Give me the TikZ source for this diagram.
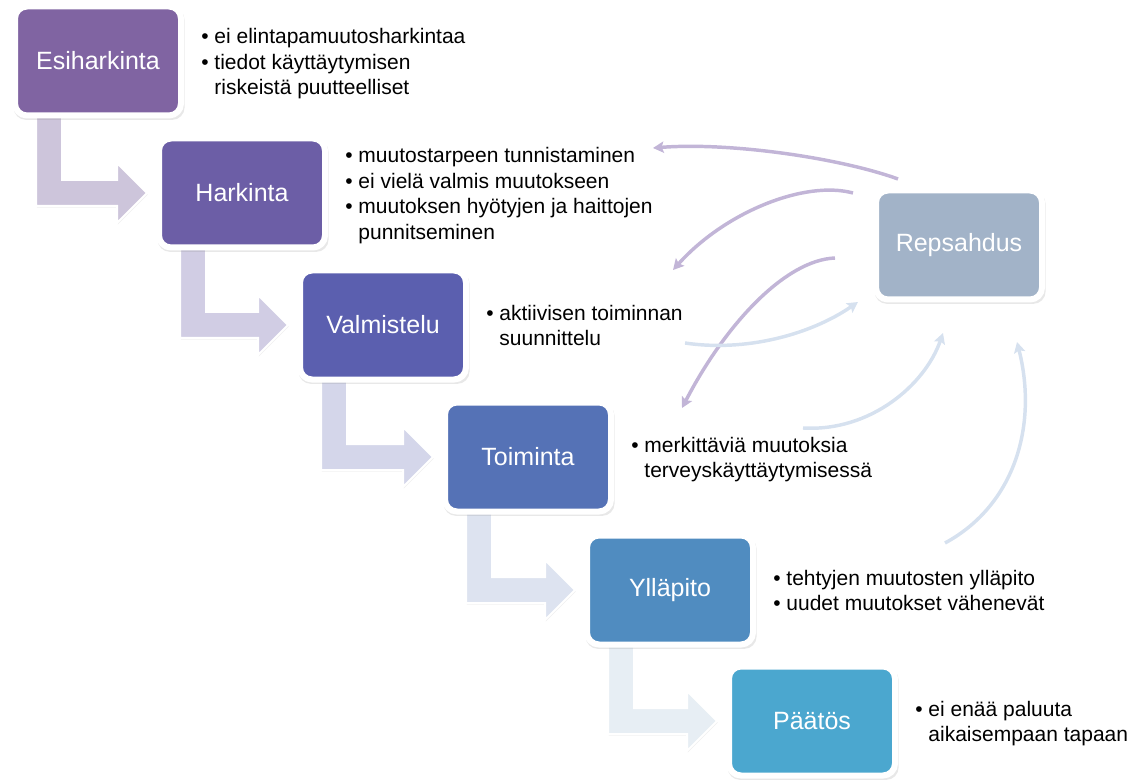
\documentclass[tikz,border=0pt]{standalone}
\usepackage{fontspec}
\setmainfont{Liberation Sans}
\usetikzlibrary{calc,shadows,arrows.meta}
\definecolor{cE}{HTML}{8064A2}
\definecolor{cH}{HTML}{6C5EA6}
\definecolor{cV}{HTML}{5B5FAF}
\definecolor{cT}{HTML}{5572B6}
\definecolor{cY}{HTML}{508CC0}
\definecolor{cP}{HTML}{4BA7CF}
\definecolor{cR}{HTML}{A2B3C8}
\definecolor{aE}{HTML}{CDC5DB}
\definecolor{aH}{HTML}{D1CDE4}
\definecolor{aV}{HTML}{D4D6EA}
\definecolor{aT}{HTML}{DDE3F0}
\definecolor{aY}{HTML}{E7EEF4}
\definecolor{cpurp}{HTML}{C2B5D7}
\definecolor{cblue}{HTML}{D6E1EF}
\pgfdeclarelayer{bg}
\pgfsetlayers{bg,main}
\newcommand\bl{\textbullet\ }
\newcommand\ct{\phantom{\textbullet\ }}
\newcommand\larrow[3]{%
  \coordinate (s#1) at ($(#1.south west)+(24,-10)$);
  \coordinate (t#1) at ($(#2.west)+(-9,0)$);
  \draw[larr, fill=#3] let \p1=(s#1), \p2=(t#1) in
    (\x1,\y1) -- (\x1,{\y2-9.75pt}) -- ({\x2-22.5pt},{\y2-9.75pt})
    -- ({\x2-22.5pt},{\y2-22.5pt}) -- (\x2,\y2) -- ({\x2-22.5pt},{\y2+22.5pt})
    -- ({\x2-22.5pt},{\y2+9.75pt}) -- ({\x1+19.5pt},{\y2+9.75pt})
    -- ({\x1+19.5pt},\y1) -- cycle;}
\begin{document}
\begin{tikzpicture}[x=0.75pt,y=-0.75pt,
  stage/.style={draw=white, line width=4.5pt, rounded corners=9pt,
    minimum width=124.5pt, minimum height=81.75pt, inner sep=0pt,
    text=white, font=\fontsize{18.75}{22}\selectfont,
    drop shadow={shadow xshift=0.8pt, shadow yshift=-2pt, opacity=0.18, shadow scale=1.03}},
  desc/.style={anchor=west, align=left, inner sep=0pt, text=black,
    font=\fontsize{15.75}{19.1}\selectfont},
  larr/.style={draw=white, line width=1.5pt, line join=miter,
    drop shadow={shadow xshift=0.6pt, shadow yshift=-1.2pt, opacity=0.12}},
  curv/.style={line width=2.6pt, -{Stealth[length=8pt,width=8.5pt,inset=1.5pt]}}]
\useasboundingbox (0,0) rectangle (1138,780);

\node[stage, fill=cE] (E) at (98,61) {Esiharkinta};
\node[stage, fill=cH] (H) at (242,193) {Harkinta};
\node[stage, fill=cV] (V) at (383,325) {Valmistelu};
\node[stage, fill=cT] (T) at (528,457) {Toiminta};
\node[stage, fill=cY] (Y) at (670,590) {Ylläpito};
\node[stage, fill=cP] (P) at (812,721) {Päätös};
\node[stage, fill=cR] (R) at (959,245) {Repsahdus};

\begin{pgfonlayer}{bg}
\larrow{E}{H}{aE}
\larrow{H}{V}{aH}
\larrow{V}{T}{aV}
\larrow{T}{Y}{aT}
\larrow{Y}{P}{aY}
\end{pgfonlayer}

\node[desc] (dE) at ($(E.east)+(17,3)$) {\strut\bl ei elintapamuutosharkintaa\\\strut\bl tiedot käyttäytymisen\\\strut\ct riskeistä puutteelliset};
\node[desc] (dH) at ($(H.east)+(17,3)$) {\strut\bl muutostarpeen tunnistaminen\\\strut\bl ei vielä valmis muutokseen\\\strut\bl muutoksen hyötyjen ja haittojen\\\strut\ct punnitseminen};
\node[desc] (dV) at ($(V.east)+(17,3)$) {\strut\bl aktiivisen toiminnan\\\strut\ct suunnittelu};
\node[desc] (dT) at ($(T.east)+(17,3)$) {\strut\bl merkittäviä muutoksia\\\strut\ct terveyskäyttäytymisessä};
\node[desc] (dY) at ($(Y.east)+(17,3)$) {\strut\bl tehtyjen muutosten ylläpito\\\strut\bl uudet muutokset vähenevät};
\node[desc] (dP) at ($(P.east)+(17,3)$) {\strut\bl ei enää paluuta\\\strut\ct aikaisempaan tapaan};

\coordinate (p1s) at (898,179);
\coordinate (p1e) at (653,148);
\coordinate (p2s) at (853,193);
\coordinate (p2e) at (673,270);
\coordinate (p3s) at (835,258);
\coordinate (p3e) at (682,408);
\coordinate (b1s) at (685,343);
\coordinate (b1e) at (858,302);
\coordinate (b2s) at (803,428);
\coordinate (b2e) at (943,333);
\coordinate (b3s) at (945,543);
\coordinate (b3e) at (1017,342);

\draw[curv, cpurp] (p1s) .. controls (840,158) and (730,142) .. (p1e);
\draw[curv, cpurp] (p2s) .. controls (805,180) and (725,212) .. (p2e);
\draw[curv, cpurp] (p3s) .. controls (785,260) and (725,325) .. (p3e);
\draw[curv, cblue] (b1s) .. controls (745,352) and (810,335) .. (b1e);
\draw[curv, cblue] (b2s) .. controls (870,432) and (925,385) .. (b2e);
\draw[curv, cblue] (b3s) .. controls (1015,505) and (1038,425) .. (b3e);
\end{tikzpicture}
\end{document}
